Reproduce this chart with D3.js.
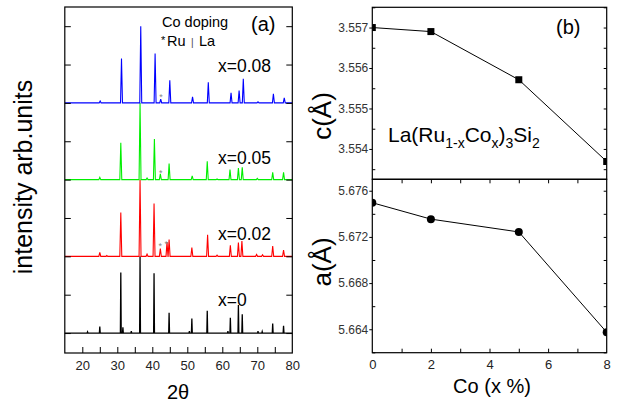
<!DOCTYPE html>
<html>
<head>
<meta charset="utf-8">
<script src="https://cdn.jsdelivr.net/npm/d3@7"></script>
<style>
  html, body { margin: 0; padding: 0; background: #fff; }
  svg { display: block; font-family: 'Liberation Sans', Arial, sans-serif; }
</style>
</head>
<body>
<div id="chart"></div>
<script>
// XRD patterns (panel a): [2theta, relative height above baseline]
var pattern0 = [[21.5,0.03],[25.0,0.17],[31.0,1.58],[31.6,0.15],[34.0,0.05],[36.5,2.0],[40.5,1.56],[44.8,0.53],[50.6,0.05],[51.3,0.38],[55.7,0.58],[61.6,0.05],[62.3,0.40],[64.6,0.73],[65.7,0.49],[70.2,0.05],[71.4,0.04],[74.4,0.25],[77.5,0.19]];
var pattern2 = [[25.0,0.10],[27.0,0.02],[31.0,1.14],[36.5,2.0],[38.5,0.06],[40.5,1.38],[42.3,0.20],[44.2,0.37],[44.8,0.44],[51.3,0.23],[55.8,0.56],[58.5,0.03],[62.3,0.29],[64.6,0.36],[65.6,0.40],[69.8,0.05],[71.5,0.04],[74.4,0.27],[77.5,0.16]];
var pattern5 = [[25.0,0.06],[31.0,0.96],[36.5,2.0],[38.5,0.04],[40.6,1.06],[42.3,0.15],[44.8,0.42],[51.4,0.10],[55.7,0.48],[58.5,0.02],[62.2,0.26],[64.6,0.30],[65.7,0.32],[70.0,0.03],[74.4,0.19],[77.5,0.19]];
var pattern8 = [[25.1,0.05],[31.2,1.16],[36.7,2.0],[40.8,1.29],[42.4,0.10],[45.0,0.59],[51.5,0.16],[56.0,0.54],[62.5,0.26],[64.8,0.32],[66.0,0.63],[70.2,0.03],[74.6,0.24],[77.7,0.13]];
var patterns = [pattern0, pattern2, pattern5, pattern8];
var patternLabels = ['x=0', 'x=0.02', 'x=0.05', 'x=0.08'];
var patternOffsets = [0, 2, 4, 6];
var patternColors = ['#000000', '#ff0000', '#00ee00', '#0000ff'];
var starMarks = [[42.3, 2.32], [44.0, 2.38], [42.4, 4.22], [42.5, 6.20]];
var twoThetaTicks = [20, 30, 40, 50, 60, 70, 80];

// lattice parameters (panel b)
var coPercent = [0, 2, 5, 8];
var cParam = [3.5570, 3.5569, 3.55571, 3.55369];
var aParam = [5.67496, 5.67354, 5.67243, 5.66374];
var cTicks = [3.554, 3.555, 3.556, 3.557];
var aTicks = [5.664, 5.668, 5.672, 5.676];
var coTicks = [0, 2, 4, 6, 8];

var W = 618, H = 402;
var svg = d3.select('#chart').append('svg').attr('width', W).attr('height', H);

// ---------- panel (a) ----------
var ax = d3.scaleLinear().domain([15, 80]).range([64.8, 292.3]);
var ay = d3.scaleLinear().domain([-0.52, 8.5]).range([353, 7]);
var ga = svg.append('g');

ga.append('clipPath').attr('id', 'clipA').append('rect')
  .attr('x', ax(15)).attr('y', ay(8.5)).attr('width', ax(80) - ax(15)).attr('height', ay(-0.52) - ay(8.5));

function profile(peaks, w){
  var pts = [[15, 0]];
  peaks.forEach(function(p){ pts.push([p[0] - w, 0], [p[0], p[1]], [p[0] + w, 0]); });
  pts.push([80, 0]);
  return pts;
}
var line = d3.line().x(function(d){ return ax(d[0]); });

patterns.forEach(function(pk, i){
  var off = patternOffsets[i];
  ga.append('path')
    .attr('clip-path', 'url(#clipA)')
    .attr('d', line.y(function(d){ return ay(d[1] + off); })(profile(pk, i === 0 ? 0.12 : 0.28)))
    .attr('fill', 'none')
    .attr('stroke', patternColors[i])
    .attr('stroke-width', i === 0 ? 1.3 : 1.1);
});

ga.selectAll('.star').data(starMarks).enter().append('text')
  .attr('x', function(d){ return ax(d[0]); })
  .attr('y', function(d){ return ay(d[1]) + 5; })
  .attr('text-anchor', 'middle')
  .style('font-size', '9px').style('fill', '#888')
  .text('*');

// frame + ticks
ga.append('rect').attr('x', ax(15)).attr('y', ay(8.5)).attr('width', ax(80) - ax(15)).attr('height', ay(-0.52) - ay(8.5))
  .attr('fill', 'none').attr('stroke', '#000').attr('stroke-width', 1.2);
var gx = ga.append('g').attr('transform', 'translate(0,' + ay(-0.52) + ')')
  .call(d3.axisBottom(ax).tickValues(d3.range(20, 80, 5)).tickSize(-6).tickFormat(''));
gx.select('.domain').remove();
var gxl = ga.append('g').attr('transform', 'translate(0,' + ay(-0.52) + ')')
  .call(d3.axisBottom(ax).tickValues(twoThetaTicks).tickSize(0).tickPadding(8).tickFormat(d3.format('d')));
gxl.select('.domain').remove();
gxl.selectAll('text').style('font-size', '13px').style('fill', '#222').style('font-family', "'Liberation Sans', Arial, sans-serif");
var gyl = ga.append('g').attr('transform', 'translate(' + ax(15) + ',0)')
  .call(d3.axisRight(ay).tickValues(d3.range(0, 9)).tickSize(6).tickFormat(''));
gyl.select('.domain').remove();
var gyr = ga.append('g').attr('transform', 'translate(' + ax(80) + ',0)')
  .call(d3.axisLeft(ay).tickValues(d3.range(0, 9)).tickSize(6).tickFormat(''));
gyr.select('.domain').remove();

// labels
patterns.forEach(function(pk, i){
  ga.append('text').attr('x', 218).attr('y', ay(patternOffsets[i]) - [27, 16, 16, 31][i])
    .style('font-size', '17.5px').text(patternLabels[i]);
});
ga.append('text').attr('x', 162).attr('y', 27).style('font-size', '14.5px').text('Co doping');
ga.append('text').attr('x', 161).attr('y', 44).style('font-size', '11px').text('*');
ga.append('text').attr('x', 167).attr('y', 46).style('font-size', '14.5px').text('Ru');
ga.append('text').attr('x', 191).attr('y', 46).style('font-size', '10px').style('fill', '#444').text('|');
ga.append('text').attr('x', 199).attr('y', 46).style('font-size', '14.5px').text('La');
ga.append('text').attr('x', 251).attr('y', 31).style('font-size', '20px').text('(a)');
ga.append('text').attr('transform', 'translate(32,177) rotate(-90)').attr('text-anchor', 'middle')
  .style('font-size', '25px').text('intensity arb.units');
ga.append('text').attr('x', 178).attr('y', 399).attr('text-anchor', 'middle')
  .style('font-size', '20px').text('2θ');

// ---------- panel (b) ----------
var bx = d3.scaleLinear().domain([0, 8]).range([372.3, 606.7]);
var cy = d3.scaleLinear().domain([3.55325, 3.5575]).range([179.3, 7.3]);
var ayB = d3.scaleLinear().domain([5.66197, 5.67699]).range([352.7, 179.3]);
var gb = svg.append('g');

function subPlot(yScale, values, ticks, minorStep, shape, clipId){
  var y0 = yScale.range()[1], y1 = yScale.range()[0];
  gb.append('clipPath').attr('id', clipId).append('rect')
    .attr('x', bx(0)).attr('y', y0).attr('width', bx(8) - bx(0)).attr('height', y1 - y0);
  var g = gb.append('g').attr('clip-path', 'url(#' + clipId + ')');
  var pts = coPercent.map(function(c, i){ return [c, values[i]]; });
  g.append('path')
    .attr('d', d3.line().x(function(d){ return bx(d[0]); }).y(function(d){ return yScale(d[1]); })(pts))
    .attr('fill', 'none').attr('stroke', '#000').attr('stroke-width', 1);
  if (shape === 'square'){
    g.selectAll('.m').data(pts).enter().append('rect')
      .attr('x', function(d){ return bx(d[0]) - 3.5; }).attr('y', function(d){ return yScale(d[1]) - 3.5; })
      .attr('width', 7).attr('height', 7).attr('fill', '#000');
  } else {
    g.selectAll('.m').data(pts).enter().append('circle')
      .attr('cx', function(d){ return bx(d[0]); }).attr('cy', function(d){ return yScale(d[1]); })
      .attr('r', 4).attr('fill', '#000');
  }
  var dom = yScale.domain();
  var minor = d3.range(Math.ceil(dom[0] / minorStep) * minorStep, dom[1], minorStep)
    .filter(function(v){ return !ticks.some(function(t){ return Math.abs(t - v) < minorStep / 10; }); });
  // minor ticks inward on the left, major ticks outward
  var l = gb.append('g').attr('transform', 'translate(' + bx(0) + ',0)')
    .call(d3.axisRight(yScale).tickValues(minor).tickSize(3).tickFormat(''));
  l.select('.domain').remove();
  var r = gb.append('g').attr('transform', 'translate(' + bx(8) + ',0)')
    .call(d3.axisLeft(yScale).tickValues(minor.concat(ticks)).tickSize(3).tickFormat(''));
  r.select('.domain').remove();
  var lab = gb.append('g').attr('transform', 'translate(' + bx(0) + ',0)')
    .call(d3.axisLeft(yScale).tickValues(ticks).tickSize(3).tickPadding(1).tickFormat(d3.format('.3f')));
  lab.select('.domain').remove();
  lab.selectAll('text').style('font-size', '12px').style('fill', '#333').style('font-family', "'Liberation Sans', Arial, sans-serif");
  gb.append('rect').attr('x', bx(0)).attr('y', y0).attr('width', bx(8) - bx(0)).attr('height', y1 - y0)
    .attr('fill', 'none').attr('stroke', '#000').attr('stroke-width', 1.2);
}
subPlot(cy, cParam, cTicks, 0.0005, 'square', 'clipC');
subPlot(ayB, aParam, aTicks, 0.002, 'circle', 'clipAB');

// x ticks of lower plot (bottom and top, inward)
var bxt = gb.append('g').attr('transform', 'translate(0,' + ayB.range()[0] + ')')
  .call(d3.axisBottom(bx).tickValues(d3.range(1, 8)).tickSize(-4).tickFormat(''));
bxt.select('.domain').remove();
var bxt2 = gb.append('g').attr('transform', 'translate(0,' + ayB.range()[1] + ')')
  .call(d3.axisTop(bx).tickValues(d3.range(1, 8)).tickSize(-4).tickFormat(''));
bxt2.select('.domain').remove();
var bxl = gb.append('g').attr('transform', 'translate(0,' + ayB.range()[0] + ')')
  .call(d3.axisBottom(bx).tickValues(coTicks).tickSize(0).tickPadding(7).tickFormat(d3.format('d')));
bxl.select('.domain').remove();
bxl.selectAll('text').style('font-size', '13px').style('fill', '#222').style('font-family', "'Liberation Sans', Arial, sans-serif");

gb.append('text').attr('x', 492).attr('y', 393).attr('text-anchor', 'middle').style('font-size', '20px').text('Co (x %)');
gb.append('text').attr('x', 556).attr('y', 34).style('font-size', '20px').text('(b)');
gb.append('text').attr('transform', 'translate(331,116) rotate(-90)').attr('text-anchor', 'middle')
  .style('font-size', '26px').text('c(Å)');
gb.append('text').attr('transform', 'translate(331,262) rotate(-90)').attr('text-anchor', 'middle')
  .style('font-size', '26px').text('a(Å)');

var formula = gb.append('text').attr('x', 388).attr('y', 142).style('font-size', '21px');
formula.append('tspan').text('La(Ru');
formula.append('tspan').attr('dy', 6).style('font-size', '14px').text('1-x');
formula.append('tspan').attr('dy', -6).text('Co');
formula.append('tspan').attr('dy', 6).style('font-size', '14px').text('x');
formula.append('tspan').attr('dy', -6).text(')');
formula.append('tspan').attr('dy', 6).style('font-size', '14px').text('3');
formula.append('tspan').attr('dy', -6).text('Si');
formula.append('tspan').attr('dy', 6).style('font-size', '14px').text('2');
</script>
</body>
</html>
